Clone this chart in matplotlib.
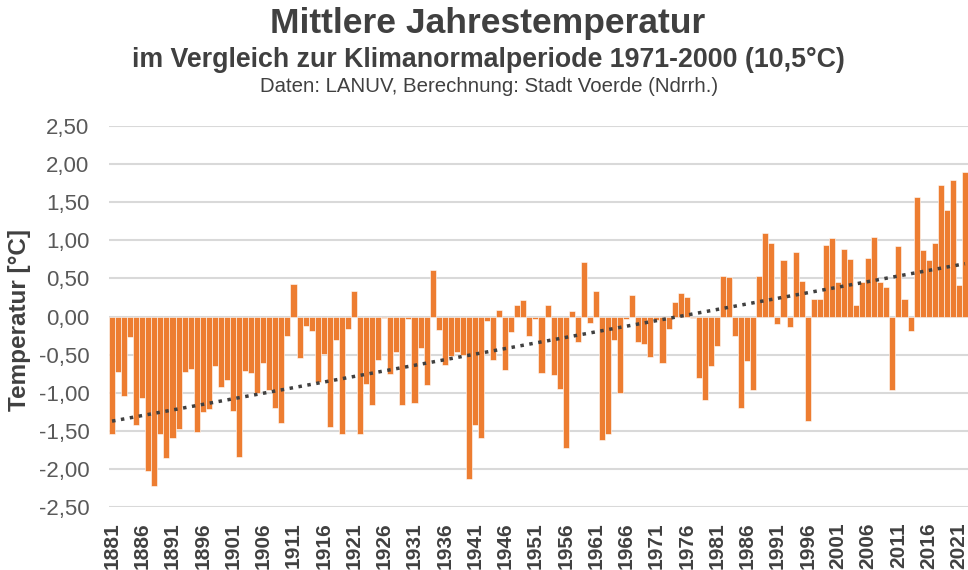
import numpy as np
import matplotlib.pyplot as plt

plt.rcParams['font.family'] = ['Liberation Sans', 'DejaVu Sans']

years = list(range(1881, 2023))
anomaly = [
    -1.54, -0.73, -1.04, -0.27, -1.42, -1.07, -2.03, -2.23, -1.54, -1.86,   # 1881-1890
    -1.59, -1.48, -0.73, -0.69, -1.52, -1.25, -1.21, -0.65, -0.92, -0.83,   # 1891-1900
    -1.24, -1.85, -0.72, -0.74, -1.00, -0.61, -0.96, -1.20, -1.40, -0.25,   # 1901-1910
    0.43, -0.55, -0.12, -0.19, -0.86, -0.49, -1.45, -0.31, -1.54, -0.17,    # 1911-1920
    0.33, -1.54, -0.89, -1.16, -0.57, -0.02, -0.75, -0.46, -1.16, -0.03,    # 1921-1930
    -1.14, -0.41, -0.90, 0.61, -0.18, -0.63, -0.52, -0.47, -0.50, -2.13,    # 1931-1940
    -1.42, -1.59, -0.06, -0.57, 0.09, -0.70, -0.20, 0.15, 0.22, -0.26,      # 1941-1950
    -0.03, -0.74, 0.15, -0.77, -0.95, -1.72, 0.07, -0.34, 0.71, -0.09,      # 1951-1960
    0.34, -1.62, -1.54, -0.31, -1.00, -0.03, 0.28, -0.34, -0.36, -0.53,     # 1961-1970
    -0.04, -0.61, -0.16, 0.19, 0.31, 0.26, -0.02, -0.81, -1.10, -0.65,      # 1971-1980
    -0.39, 0.53, 0.52, -0.25, -1.20, -0.59, -0.97, 0.53, 1.09, 0.97,        # 1981-1990
    -0.10, 0.74, -0.14, 0.84, 0.47, -1.37, 0.23, 0.23, 0.94, 1.03,          # 1991-2000
    0.45, 0.89, 0.76, 0.15, 0.45, 0.77, 1.04, 0.45, 0.39, -0.97,            # 2001-2010
    0.93, 0.23, -0.19, 1.57, 0.87, 0.74, 0.97, 1.72, 1.40, 1.79,            # 2011-2020
    0.41, 1.89,                                                             # 2021-2022
]
yticks = [2.5, 2.0, 1.5, 1.0, 0.5, 0.0, -0.5, -1.0, -1.5, -2.0, -2.5]
xtick_years = list(range(1881, 2022, 5))

fig = plt.figure(figsize=(9.68, 5.70), dpi=100)
ax = fig.add_axes([109 / 968, 1 - 507 / 570, 1 - 109 / 968, (507 - 126) / 570])

ax.bar(years, anomaly, width=1.0, color='#ED7D31', edgecolor='white', linewidth=0.4, zorder=2)

# linear trend
coef = np.polyfit(years, anomaly, 1)
yrs = np.array(years, dtype=float)
ax.plot(yrs, np.polyval(coef, yrs), color='#404040', linestyle=(0, (1, 1.6)), linewidth=2.5, zorder=3)

ax.set_xlim(1880.5, 2022.5)
ax.set_ylim(-2.5, 2.5)
ax.set_yticks(yticks)
ax.set_yticklabels([f"{v:.2f}".replace('.', ',') for v in yticks], fontsize=16, color='#595959')
ax.set_xticks(xtick_years)
ax.set_xticklabels([str(y) for y in xtick_years], rotation=90, fontsize=15,
                   fontweight='bold', color='#404040')
ax.tick_params(axis='both', length=0)
ax.tick_params(axis='y', pad=14)
ax.tick_params(axis='x', pad=11)
ax.grid(axis='y', color='#d9d9d9', linewidth=1.5, zorder=0)
ax.set_axisbelow(True)
for s in ax.spines.values():
    s.set_visible(False)

ax.set_ylabel('Temperatur [°C]', fontsize=17.5, fontweight='bold', color='#404040')
ax.yaxis.set_label_coords((31 - 109) / 859, (507 - 320) / 381)

fig.text(488 / 968, 1 - 23 / 570, 'Mittlere Jahrestemperatur', ha='center', va='center',
         fontsize=25.5, fontweight='bold', color='#404040')
fig.text(488 / 968, 1 - 60 / 570, 'im Vergleich zur Klimanormalperiode 1971-2000 (10,5°C)',
         ha='center', va='center', fontsize=19.3, fontweight='bold', color='#404040')
fig.text(489 / 968, 1 - 87 / 570, 'Daten: LANUV, Berechnung: Stadt Voerde (Ndrrh.)',
         ha='center', va='center', fontsize=14.7, color='#404040')

fig.savefig('out.png', dpi=100)
